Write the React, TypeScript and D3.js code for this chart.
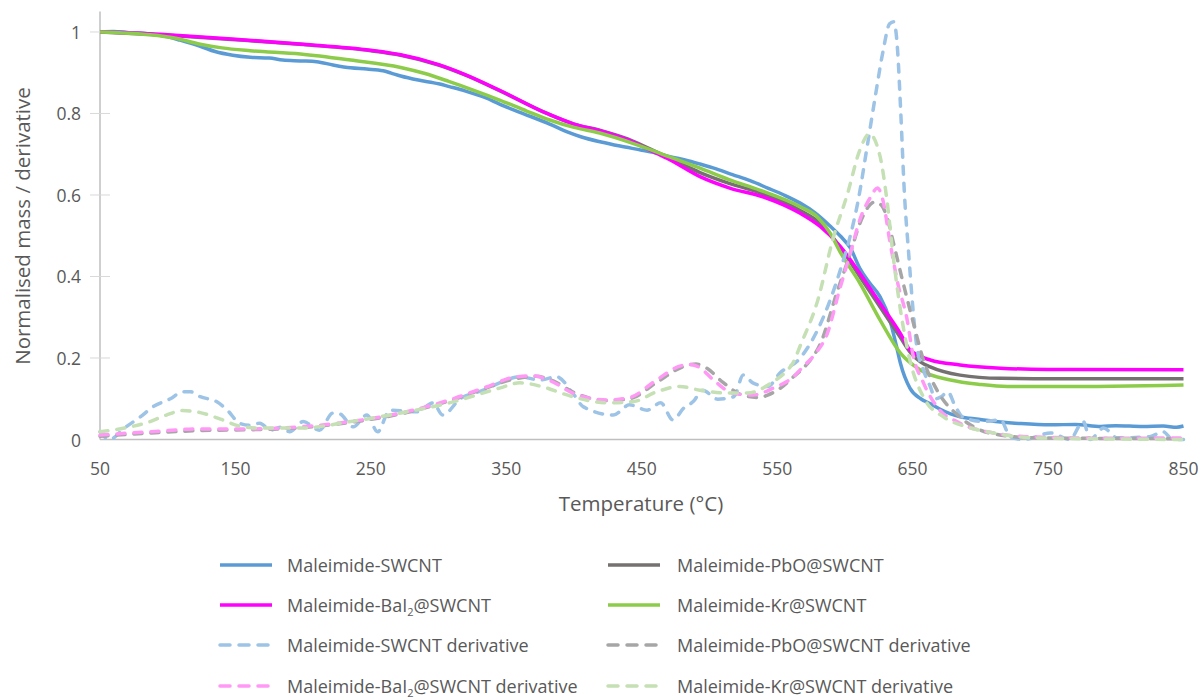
import React from "react";
import * as d3 from "d3";

type P = [number, number];

const xTicks = [50, 150, 250, 350, 450, 550, 650, 750, 850];
const yTicks = [0, 0.2, 0.4, 0.6, 0.8, 1];
const yTickLabels = ["0", "0.2", "0.4", "0.6", "0.8", "1"];

const swcnt: P[] = [[50,1.0],[60,1.001],[70,0.999],[87,0.995],[100,0.988],[109,0.98],[124,0.965],[135,0.952],[148,0.943],[161,0.938],[175,0.936],[185,0.931],[198,0.929],[210,0.927],[222,0.919],[235,0.912],[247,0.909],[259,0.905],[265,0.899],[272,0.892],[285,0.882],[300,0.873],[308,0.866],[320,0.855],[335,0.838],[345,0.823],[360,0.803],[382,0.774],[395,0.755],[405,0.743],[420,0.73],[434,0.72],[450,0.71],[462,0.702],[471,0.694],[482,0.686],[493,0.676],[505,0.664],[517,0.65],[530,0.635],[543,0.617],[555,0.6],[567,0.58],[578,0.556],[589,0.524],[597,0.498],[604,0.47],[611,0.42],[618,0.385],[626,0.35],[633,0.295],[638,0.23],[641,0.187],[648,0.126],[656,0.1],[663,0.088],[670,0.075],[678,0.063],[685,0.056],[692,0.052],[700,0.049],[715,0.043],[730,0.039],[752,0.036],[770,0.037],[789,0.032],[800,0.034],[820,0.032],[835,0.033],[845,0.03],[850,0.033]];

const pbo: P[] = [[50,1.0],[100,0.992],[150,0.981],[200,0.969],[250,0.954],[272,0.943],[300,0.919],[320,0.894],[345,0.856],[380,0.8],[400,0.774],[420,0.758],[440,0.737],[456,0.713],[471,0.69],[493,0.655],[515,0.628],[537,0.606],[567,0.562],[582,0.53],[597,0.47],[611,0.4],[626,0.325],[641,0.25],[648,0.215],[656,0.19],[663,0.178],[685,0.158],[715,0.15],[750,0.149],[850,0.149]];

const bai2: P[] = [[50,1.0],[80,0.997],[100,0.993],[150,0.982],[200,0.97],[250,0.955],[272,0.944],[300,0.92],[320,0.895],[345,0.857],[380,0.8],[400,0.774],[420,0.757],[440,0.735],[456,0.71],[471,0.686],[493,0.645],[515,0.617],[540,0.595],[567,0.555],[582,0.522],[597,0.472],[611,0.408],[626,0.334],[641,0.26],[648,0.22],[663,0.195],[685,0.183],[715,0.175],[750,0.172],[850,0.171]];

const kr: P[] = [[50,1.0],[87,0.993],[105,0.985],[124,0.97],[140,0.961],[161,0.954],[198,0.946],[235,0.931],[272,0.913],[290,0.898],[308,0.878],[325,0.858],[345,0.833],[365,0.806],[382,0.784],[400,0.766],[419,0.752],[445,0.725],[471,0.693],[493,0.666],[515,0.637],[537,0.612],[567,0.571],[580,0.545],[589,0.507],[597,0.457],[611,0.384],[626,0.293],[641,0.212],[656,0.17],[678,0.146],[700,0.135],[720,0.13],[760,0.13],[850,0.134]];

const swcntDeriv: P[] = [[50,0.019],[57,0.0],[68,0.028],[80,0.056],[89,0.08],[102,0.1],[111,0.117],[117,0.117],[124,0.105],[136,0.093],[144,0.072],[153,0.04],[160,0.035],[168,0.04],[176,0.023],[183,0.03],[190,0.019],[200,0.044],[212,0.023],[222,0.065],[227,0.063],[237,0.031],[247,0.06],[255,0.019],[264,0.072],[284,0.068],[296,0.09],[303,0.06],[316,0.1],[333,0.121],[345,0.139],[360,0.154],[375,0.146],[387,0.154],[399,0.114],[407,0.08],[429,0.06],[441,0.085],[454,0.072],[464,0.09],[473,0.048],[481,0.077],[488,0.093],[495,0.121],[506,0.099],[518,0.105],[525,0.158],[532,0.139],[543,0.13],[552,0.163],[567,0.2],[580,0.27],[590,0.35],[597,0.42],[604,0.5],[610,0.59],[616,0.71],[622,0.833],[628,0.95],[633,1.02],[636,1.025],[639,0.95],[641,0.82],[644,0.6],[647,0.46],[650,0.33],[653,0.23],[658,0.17],[663,0.13],[667,0.1],[671,0.105],[676,0.117],[681,0.085],[687,0.055],[702,0.044],[715,0.048],[722,0.007],[732,0.0],[752,0.016],[766,0.0],[776,0.044],[781,0.0],[791,0.028],[801,0.004],[825,0.007],[835,0.019],[842,0.0],[850,0.0]];

const pboDeriv: P[] = [[50,0.008],[87,0.016],[124,0.022],[161,0.024],[198,0.029],[235,0.042],[272,0.063],[308,0.095],[333,0.124],[358,0.15],[372,0.155],[385,0.143],[400,0.115],[424,0.096],[441,0.1],[461,0.14],[480,0.178],[490,0.185],[498,0.175],[510,0.14],[525,0.108],[537,0.103],[543,0.109],[552,0.125],[562,0.154],[572,0.185],[582,0.236],[594,0.36],[604,0.457],[611,0.53],[617,0.57],[622,0.583],[627,0.575],[631,0.546],[636,0.48],[643,0.384],[650,0.293],[658,0.195],[668,0.121],[685,0.055],[707,0.016],[740,0.004],[850,0.002]];

const bai2Deriv: P[] = [[50,0.011],[87,0.019],[124,0.026],[161,0.026],[198,0.031],[235,0.044],[272,0.065],[308,0.097],[333,0.126],[358,0.154],[370,0.156],[382,0.145],[399,0.114],[424,0.097],[441,0.103],[461,0.146],[478,0.18],[485,0.184],[492,0.178],[503,0.146],[517,0.114],[532,0.109],[547,0.126],[562,0.154],[569,0.178],[578,0.21],[587,0.26],[596,0.367],[604,0.457],[611,0.539],[619,0.595],[624,0.617],[628,0.588],[633,0.49],[639,0.384],[646,0.293],[650,0.212],[658,0.139],[668,0.08],[685,0.04],[710,0.016],[740,0.006],[800,0.003],[850,0.004]];

const krDeriv: P[] = [[50,0.019],[68,0.028],[87,0.044],[99,0.06],[111,0.071],[124,0.066],[139,0.05],[153,0.033],[168,0.028],[198,0.028],[235,0.044],[272,0.065],[308,0.09],[345,0.126],[360,0.139],[375,0.131],[399,0.105],[424,0.09],[444,0.093],[461,0.117],[478,0.13],[493,0.121],[513,0.114],[528,0.114],[547,0.142],[556,0.165],[562,0.19],[567,0.23],[580,0.342],[591,0.49],[602,0.604],[611,0.71],[618,0.75],[626,0.694],[631,0.588],[636,0.44],[641,0.318],[648,0.195],[658,0.104],[673,0.055],[690,0.031],[710,0.016],[740,0.004],[850,0.0]];

const seriesNames = [
  "Maleimide-SWCNT",
  "Maleimide-PbO@SWCNT",
  "Maleimide-BaI2@SWCNT",
  "Maleimide-Kr@SWCNT",
  "Maleimide-SWCNT derivative",
  "Maleimide-PbO@SWCNT derivative",
  "Maleimide-BaI2@SWCNT derivative",
  "Maleimide-Kr@SWCNT derivative",
];
const seriesData = [swcnt, pbo, bai2, kr, swcntDeriv, pboDeriv, bai2Deriv, krDeriv];
const seriesColors = ["#5B9BD5", "#767171", "#FF00FF", "#8DCC4A", "#9DC3E6", "#A6A6A6", "#FF99F5", "#C5E0B4"];
const seriesDashed = [false, false, false, false, true, true, true, true];

const FONT = "'Open Sans', sans-serif";

function Label({ name, x, y }: { name: string; x: number; y: number }) {
  const idx = name.indexOf("BaI2");
  const fs = 18;
  if (idx < 0) {
    return <text x={x} y={y} fontSize={fs} fill="#595959" fontFamily={FONT} dominantBaseline="central">{name}</text>;
  }
  const pre = name.slice(0, idx + 3);
  const post = name.slice(idx + 4);
  return (
    <text x={x} y={y} fontSize={fs} fill="#595959" fontFamily={FONT} dominantBaseline="central">
      {pre}
      <tspan fontSize={11} dy={6}>2</tspan>
      <tspan dy={-6}>{post}</tspan>
    </text>
  );
}

export default function App() {
  const W = 1202, H = 699;
  const x = d3.scaleLinear().domain([50, 850]).range([100, 1183.5]);
  const y = d3.scaleLinear().domain([0, 1.05]).range([439.5, 11.6]);
  const line = d3.line<P>().x((d) => x(d[0])).y((d) => y(d[1])).curve(d3.curveMonotoneX);

  const legendRows = [565, 605, 645, 686];
  const legendCols = [{ l: 220, t: 287 }, { l: 608, t: 677 }];

  return (
    <svg width={W} height={H} style={{ position: "absolute", left: 0, top: 0, background: "#fff" }}>
      <rect x={0} y={0} width={W} height={H} fill="#fff" />
      {/* axes */}
      <line x1={x(50)} x2={x(850)} y1={y(0)} y2={y(0)} stroke="#BFBFBF" strokeWidth={1.5} />
      <line x1={x(50)} x2={x(50)} y1={y(1.05)} y2={y(0)} stroke="#BFBFBF" strokeWidth={1.5} />
      {yTicks.map((t, i) => (
        <g key={t}>
          {t > 0 && <line x1={90} x2={110} y1={y(t)} y2={y(t)} stroke="#D9D9D9" strokeWidth={1} />}
          <text x={81} y={y(t)} textAnchor="end" dominantBaseline="central" fontSize={17.5} fill="#595959" fontFamily={FONT}>{yTickLabels[i]}</text>
        </g>
      ))}
      {xTicks.map((t) => (
        <text key={t} x={x(t)} y={468} textAnchor="middle" dominantBaseline="central" fontSize={17.5} fill="#595959" fontFamily={FONT}>{t}</text>
      ))}
      <text x={641} y={503} textAnchor="middle" dominantBaseline="central" fontSize={20.5} fill="#595959" fontFamily={FONT}>Temperature (°C)</text>
      <text transform={`translate(22,226) rotate(-90)`} textAnchor="middle" dominantBaseline="central" fontSize={20.5} fill="#595959" fontFamily={FONT}>Normalised mass / derivative</text>

      {/* series */}
      {seriesData.map((d, i) => (
        <path key={i} d={line(d) || ""} fill="none" stroke={seriesColors[i]} strokeWidth={seriesDashed[i] ? 3.5 : 3.5}
          strokeDasharray={seriesDashed[i] ? "8 9" : undefined} strokeLinecap={seriesDashed[i] ? "round" : "butt"} strokeLinejoin="round" />
      ))}

      {/* legend */}
      {seriesNames.map((n, i) => {
        const row = Math.floor(i / 2);
        const col = legendCols[i % 2];
        const yy = legendRows[row];
        return (
          <g key={n}>
            <line x1={col.l} x2={col.l + 52} y1={yy} y2={yy} stroke={seriesColors[i]} strokeWidth={3.5}
              strokeDasharray={seriesDashed[i] ? "10 9" : undefined} strokeLinecap={seriesDashed[i] ? "round" : "butt"} />
            <Label name={n} x={col.t} y={yy} />
          </g>
        );
      })}
    </svg>
  );
}
